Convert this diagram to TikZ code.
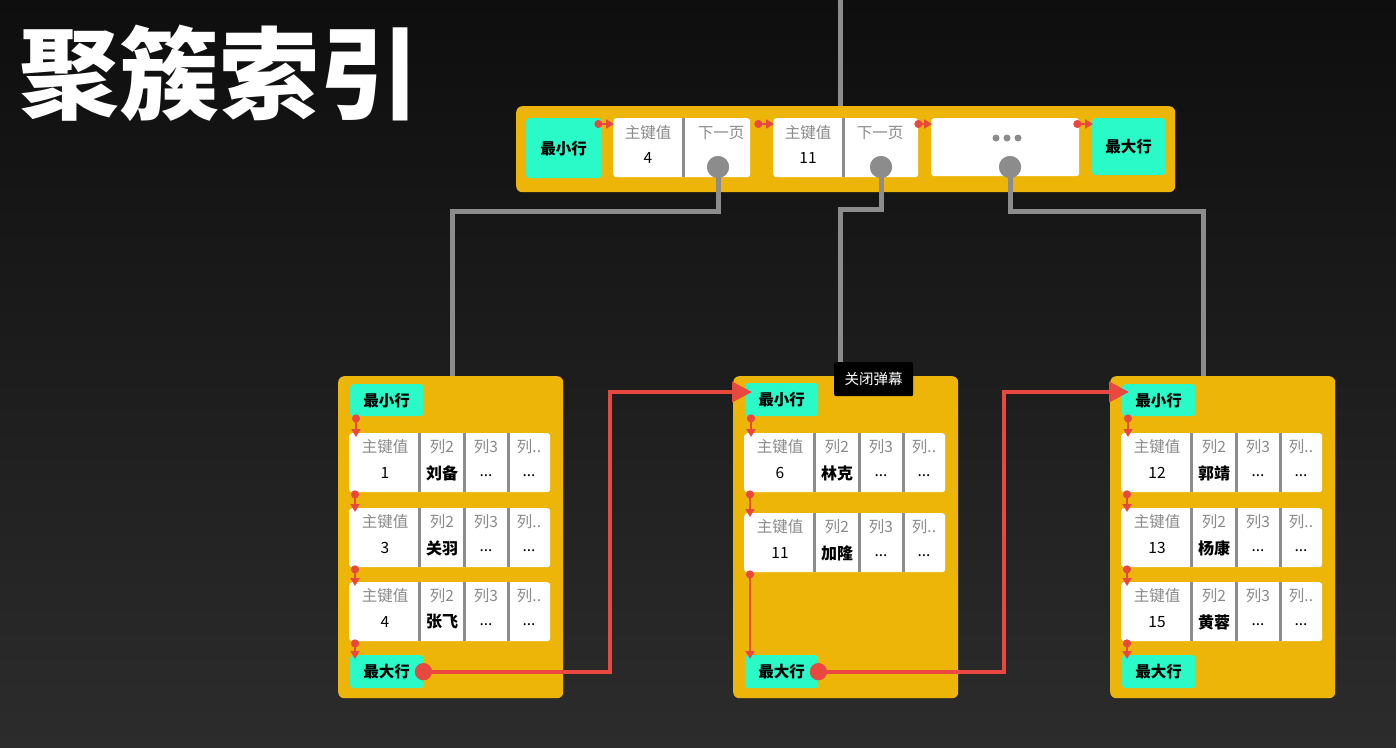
\documentclass[tikz,border=0pt]{standalone}
\usepackage{fontspec}
\setmainfont{Noto Sans CJK SC}
\usetikzlibrary{calc,arrows.meta}
\definecolor{ybox}{RGB}{237,181,8}
\definecolor{cyanbox}{RGB}{42,250,200}
\definecolor{redline}{RGB}{232,72,62}
\definecolor{gline}{RGB}{140,140,140}
\definecolor{hdrgray}{RGB}{138,138,138}
\definecolor{bgtop}{RGB}{14,14,14}
\definecolor{bgbot}{RGB}{44,44,44}
\newcommand\drow[5]{%
  \node[rowbox] (#1) at (#2,#3) {};
  \draw[divider] ($(#1.north west)+(70,0)$) -- ($(#1.south west)+(70,0)$);
  \draw[divider] ($(#1.north west)+(115,0)$) -- ($(#1.south west)+(115,0)$);
  \draw[divider] ($(#1.north west)+(159,0)$) -- ($(#1.south west)+(159,0)$);
  \node[hdr] (#1h1) at ($(#1.north west)+(36,14)$) {主键值};
  \node[hdr] (#1h2) at ($(#1.north west)+(93,14)$) {列2};
  \node[hdr] (#1h3) at ($(#1.north west)+(137,14)$) {列3};
  \node[hdr] (#1h4) at ($(#1.north west)+(180,14)$) {列..};
  \node[val] (#1v1) at ($(#1.north west)+(36,40)$) {#4};
  \node[val, font=\fontsize{16}{16}\selectfont\bfseries] (#1v2) at ($(#1.north west)+(93,40)$) {#5};
  \node[val] (#1v3) at ($(#1.north west)+(137,43)$) {...};
  \node[val] (#1v4) at ($(#1.north west)+(180,43)$) {...};
}
\newcommand\darr[2]{%
  \draw[sarr] ($(#1.south west)+(6,-2)$) -- ($(#1.south west |- #2.north)+(6,4)$);
}
\begin{document}
\begin{tikzpicture}[x=1pt,y=-1pt,
  leafbox/.style={fill=ybox, rounded corners=6pt, anchor=north west, inner sep=0pt},
  cyanrow/.style={fill=cyanbox, rounded corners=3pt, anchor=north west, inner sep=0pt, font=\fontsize{15.5}{16}\selectfont\bfseries, text=black},
  cellbox/.style={fill=white, rounded corners=3pt, anchor=north west, inner sep=0pt},
  rowbox/.style={cellbox, minimum width=201pt, minimum height=59pt},
  divider/.style={draw=gline, line width=3pt},
  hdr/.style={text=hdrgray, font=\fontsize{15.5}{16}\selectfont, inner sep=0pt},
  val/.style={text=black, font=\fontsize{15.5}{16}\selectfont, inner sep=0pt},
  sarr/.style={draw=redline, line width=1.8pt, {Circle[length=8pt,width=8pt]}-{Triangle[length=8pt,width=9pt]}},
  gconn/.style={draw=gline, line width=5pt},
  ptr/.style={circle, fill=gline, minimum size=22pt, inner sep=0pt},
  bigarr/.style={draw=redline, line width=4pt, -{Triangle[length=20pt,width=20pt]}},
  bigdot/.style={circle, fill=redline, minimum size=17pt, inner sep=0pt},
  dot/.style={circle, fill=gline, minimum size=7pt, inner sep=0pt}
]
\useasboundingbox (0,0) rectangle (1396,747);
\shade[top color=bgtop, bottom color=bgbot] (0,0) rectangle (1396,747);

% title
\node[text=white, font=\fontsize{100}{100}\selectfont\bfseries, inner sep=0pt] (title) at (219,73) {聚簇索引};

% top node
\node[leafbox, minimum width=659pt, minimum height=86pt] (top) at (516,106) {};
\node[cyanrow, minimum width=75pt, minimum height=60pt] (tmin) at (526,118) {最小行};
\node[cellbox, minimum width=137pt, minimum height=59pt] (tc1) at (613,118) {};
\draw[divider] ($(tc1.north west)+(70,0)$) -- ($(tc1.south west)+(70,0)$);
\node[hdr] (tc1h) at (648,133) {主键值};
\node[val] (tc1v) at (648,158) {4};
\node[hdr] (tc1n) at (721,133) {下一页};
\node[cellbox, minimum width=145pt, minimum height=59pt] (tc2) at (773,118) {};
\draw[divider] ($(tc2.north west)+(70,0)$) -- ($(tc2.south west)+(70,0)$);
\node[hdr] (tc2h) at (808,133) {主键值};
\node[val] (tc2v) at (808,158) {11};
\node[hdr] (tc2n) at (880,133) {下一页};
\node[cellbox, minimum width=148pt, minimum height=58pt] (tc3) at (931,118) {};
\node[dot] (td1) at (996,138) {};
\node[dot] (td2) at (1007,138) {};
\node[dot] (td3) at (1018,138) {};
\node[cyanrow, minimum width=73pt, minimum height=57pt] (tmax) at (1092,118) {最大行};

\draw[sarr] ($(tmin.north east)+(-7,6)$) -- ($(tc1.north west)+(1,6)$);
\draw[sarr] ($(tc1.north east)+(4,6)$) -- ($(tc2.north west)+(1,6)$);
\draw[sarr] ($(tc2.north east)+(-4,6)$) -- ($(tc3.north west)+(1,6)$);
\draw[sarr] ($(tc3.north east)+(-6,6)$) -- ($(tmax.north west)+(1,6)$);

% leaves
\node[leafbox, minimum width=225pt, minimum height=322pt] (Lleaf) at (338,376) {};
\node[leafbox, minimum width=225pt, minimum height=322pt] (Mleaf) at (733,376) {};
\node[leafbox, minimum width=225pt, minimum height=322pt] (Rleaf) at (1110,376) {};

% left leaf
\node[cyanrow, minimum width=73pt, minimum height=32pt] (Lmin) at (350,384) {最小行};
\drow{L1}{349}{433}{1}{刘备}
\drow{L2}{349}{508}{3}{关羽}
\drow{L3}{349}{582}{4}{张飞}
\node[cyanrow, minimum width=73pt, minimum height=33pt] (Lmax) at (350,655) {最大行};
\darr{Lmin}{L1}
\darr{L1}{L2}
\darr{L2}{L3}
\darr{L3}{Lmax}

% middle leaf
\node[cyanrow, minimum width=73pt, minimum height=33pt] (Mmin) at (745,383) {最小行};
\drow{M1}{744}{433}{6}{林克}
\drow{M2}{744}{513}{11}{加隆}
\node[cyanrow, minimum width=73pt, minimum height=33pt] (Mmax) at (745,655) {最大行};
\darr{Mmin}{M1}
\darr{M1}{M2}
\darr{M2}{Mmax}

% right leaf
\node[cyanrow, minimum width=73pt, minimum height=32pt] (Rmin) at (1122,384) {最小行};
\drow{R1}{1121}{433}{12}{郭靖}
\drow{R2}{1121}{508}{13}{杨康}
\drow{R3}{1121}{582}{15}{黄蓉}
\node[cyanrow, minimum width=73pt, minimum height=33pt] (Rmax) at (1122,655) {最大行};
\darr{Rmin}{R1}
\darr{R1}{R2}
\darr{R2}{R3}
\darr{R3}{Rmax}

% gray pointer connectors
\node[ptr] (p1) at (718,167) {};
\node[ptr] (p2) at (881,167) {};
\node[ptr] (p3) at (1010,167) {};
\coordinate (g0) at (840,0);
\coordinate (g1) at (452,211);
\coordinate (g2) at (840,209);
\coordinate (g3) at (1203,211);
\draw[gconn] (g0) -- (g0 |- top.north);
\draw[gconn] (p1.center) |- (g1) -- (g1 |- Lleaf.north);
\draw[gconn] (p2.center) |- (g2) -- (g2 |- Mleaf.north);
\draw[gconn] (p3.center) |- (g3) -- (g3 |- Rleaf.north);
\node[ptr] at (p1) {};
\node[ptr] at (p2) {};
\node[ptr] at (p3) {};

% red leaf links
\node[bigdot] (ld) at (Lmax.east) {};
\node[bigdot] (md) at (Mmax.east) {};
\coordinate (mtip) at ($(Mmin.north west)+(7,9)$);
\coordinate (rtip) at ($(Rmin.north west)+(7,8)$);
\coordinate (c1) at (610,0);
\coordinate (c2) at (1004,0);
\draw[bigarr] (ld.center) -| (c1 |- mtip) -- (mtip);
\draw[bigarr] (md.center) -| (c2 |- rtip) -- (rtip);
\node[bigdot] at (ld) {};
\node[bigdot] at (md) {};

% overlay label
\node[fill=black, rounded corners=2pt, text=white, font=\fontsize{14.5}{15}\selectfont, minimum width=79pt, minimum height=34pt, inner sep=0pt, anchor=north west] (close) at (834,362) {关闭弹幕};
\end{tikzpicture}
\end{document}
